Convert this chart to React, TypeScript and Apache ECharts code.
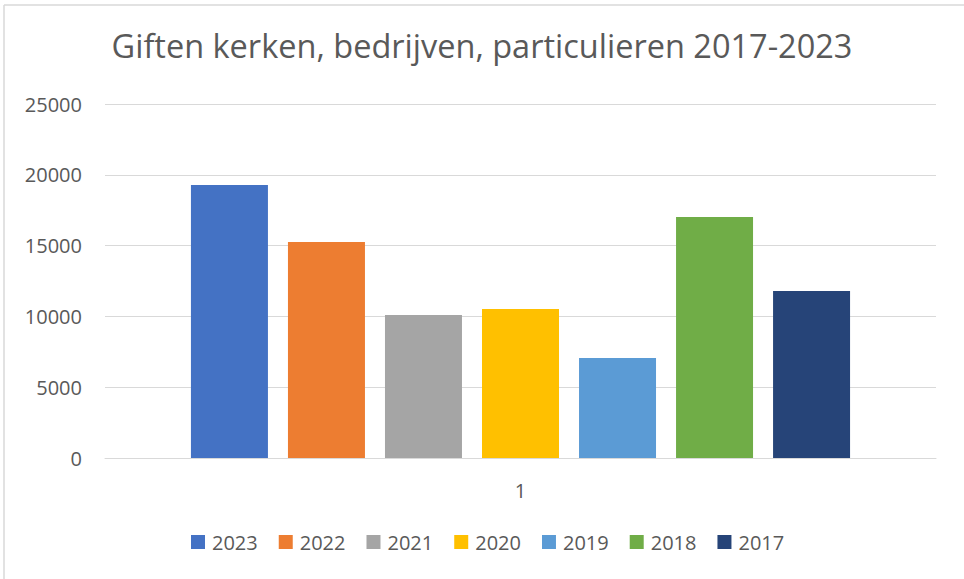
import React, { useEffect, useRef } from "react";
import * as echarts from "echarts";

const categories = ["1"];
const seriesNames = ["2023", "2022", "2021", "2020", "2019", "2018", "2017"];
const seriesValues = [19280, 15250, 10100, 10520, 7060, 17020, 11800];
const seriesColors = ["#4472C4", "#ED7D31", "#A5A5A5", "#FFC000", "#5B9BD5", "#70AD47", "#264478"];
const yTicks = { min: 0, max: 25000, interval: 5000 };
const titleText = "Giften kerken, bedrijven, particulieren 2017-2023";

const FONT = "'Open Sans', 'Noto Sans', sans-serif";
const TEXT = "#595959";
const LINE = "#d9d9d9";

export default function App() {
  const ref = useRef<HTMLDivElement>(null);
  useEffect(() => {
    if (!ref.current) return;
    const chart = echarts.init(ref.current, null, { renderer: "svg" });
    chart.setOption({
      animation: false,
      backgroundColor: "#ffffff",
      textStyle: { fontFamily: FONT },
      title: {
        text: titleText,
        left: "center",
        top: 29,
        padding: 0,
        textStyle: { fontFamily: FONT, fontSize: 32.5, fontWeight: "normal", color: TEXT },
      },
      legend: {
        data: seriesNames,
        left: 191,
        top: 532,
        padding: 0,
        itemWidth: 14,
        itemHeight: 14,
        itemGap: 21,
        icon: "rect",
        textStyle: { fontFamily: FONT, fontSize: 20, color: TEXT, padding: [0, 0, 0, 2] },
      },
      grid: { left: 105, right: 28, top: 104, bottom: 121, containLabel: false },
      xAxis: {
        type: "category",
        data: categories,
        axisLine: { lineStyle: { color: LINE, width: 1 } },
        axisTick: { show: false },
        axisLabel: { color: TEXT, fontFamily: FONT, fontSize: 20, margin: 22 },
      },
      yAxis: {
        type: "value",
        min: yTicks.min,
        max: yTicks.max,
        interval: yTicks.interval,
        axisLine: { show: false },
        axisTick: { show: false },
        splitLine: { lineStyle: { color: LINE, width: 1 } },
        axisLabel: {
          color: TEXT,
          fontFamily: FONT,
          fontSize: 20,
          margin: 23,
          formatter: (v: number) => String(v),
        },
      },
      graphic: [
        { type: "line", shape: { x1: 4, y1: 5, x2: 964, y2: 5 }, style: { stroke: LINE, lineWidth: 1.5 } },
        { type: "line", shape: { x1: 4, y1: 5, x2: 4, y2: 579 }, style: { stroke: LINE, lineWidth: 1.5 } },
      ],
      series: seriesNames.map((name, i) => ({
        name,
        type: "bar",
        data: [seriesValues[i]],
        barWidth: 77,
        barGap: "26%",
        itemStyle: { color: seriesColors[i] },
      })),
    });
    return () => chart.dispose();
  }, []);
  return (
    <div
      ref={ref}
      style={{ position: "absolute", left: 0, top: 0, width: 964, height: 579 }}
    />
  );
}
